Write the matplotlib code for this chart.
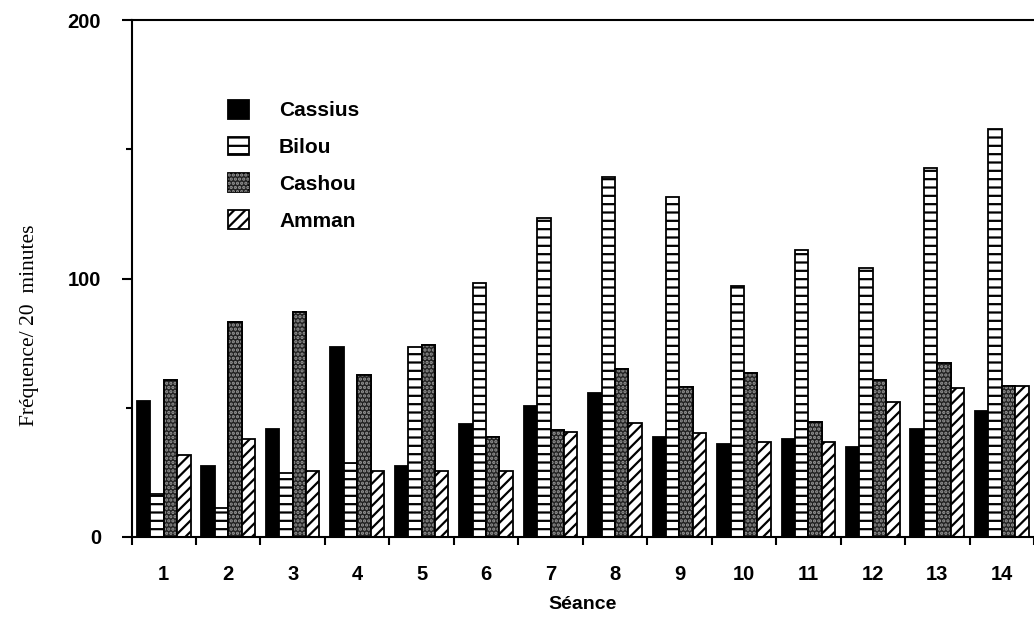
import matplotlib.pyplot as plt
from matplotlib.patches import Patch
import numpy as np

# data
seances = list(range(1, 15))
cassius = [52.7, 27.6, 41.8, 73.4, 27.6, 43.6, 50.7, 55.6, 38.8, 36.0, 37.8, 34.7, 41.7, 48.7]
bilou = [16.5, 11.1, 24.9, 28.5, 73.4, 98.1, 123.4, 139.3, 131.7, 97.1, 111.0, 103.9, 142.6, 157.7]
cashou = [60.7, 83.3, 87.2, 62.7, 74.3, 38.8, 41.4, 64.9, 57.9, 63.6, 44.6, 60.7, 67.4, 58.4]
amman = [31.7, 37.8, 25.7, 25.7, 25.7, 25.7, 40.7, 44.0, 40.1, 36.9, 36.9, 52.3, 57.5, 58.4]

plt.rcParams['hatch.linewidth'] = 1.6
plt.rcParams['font.family'] = ['Liberation Sans', 'DejaVu Sans']

fig = plt.figure(figsize=(10.34, 6.18), dpi=100)
ax = fig.add_axes([131.5 / 1034, 81 / 618, 902.5 / 1034, 517 / 618])

x = np.array(seances)
w = 0.208
lw = 1.3

ax.bar(x - 1.5 * w, cassius, w, color='black', edgecolor='black', lw=lw)
ax.bar(x - 0.5 * w, bilou, w, color='white', edgecolor='black', hatch='--', lw=lw)
ax.bar(x + 0.5 * w, cashou, w, color='#222222', edgecolor='black', lw=lw)
ax.bar(x + 0.5 * w, cashou, w, color='none', edgecolor='#999999', hatch='....', lw=0)
ax.bar(x + 0.5 * w, cashou, w, fill=False, edgecolor='black', lw=lw)
ax.bar(x + 1.5 * w, amman, w, color='white', edgecolor='black', hatch='///', lw=lw)

ax.set_xlim(0.5, 0.5 + 902.5 / 65)
ax.set_ylim(0, 200)

ax.spines['right'].set_visible(False)
for s in ['left', 'bottom', 'top']:
    ax.spines[s].set_linewidth(1.5)

ax.set_yticks([0, 100, 200])
ax.set_yticks([50, 150], minor=True)
ax.set_xticks(seances)
ax.set_xticks(np.arange(0.5, 15, 1.0), minor=True)
ax.tick_params(axis='x', which='major', length=0, pad=20, labelsize=14.5)
ax.tick_params(axis='x', which='minor', length=6, width=1.5, direction='out')
ax.tick_params(axis='y', which='major', length=7, width=1.5, pad=15, labelsize=14.5)
ax.tick_params(axis='y', which='minor', length=4, width=1.5)
for lab in ax.get_xticklabels() + ax.get_yticklabels():
    lab.set_fontweight('bold')

ax.set_xlabel('Séance', fontsize=14, fontweight='bold', labelpad=9)
fig.text(30 / 1034, 1 - 325 / 618, 'Fréquence/ 20  minutes', rotation=90,
         ha='center', va='center', fontsize=15.5, family='Liberation Serif')

handles = [
    Patch(facecolor='black', edgecolor='black', lw=lw),
    Patch(facecolor='white', edgecolor='black', hatch='--', lw=lw),
    (Patch(facecolor='#222222', edgecolor='black', lw=lw),
     Patch(facecolor='none', edgecolor='#999999', hatch='....', lw=0)),
    Patch(facecolor='white', edgecolor='black', hatch='///', lw=lw),
]
leg = ax.legend(handles, ['Cassius', 'Bilou', 'Cashou', 'Amman'],
                loc='upper left', bbox_to_anchor=(228 / 1034, 1 - 100 / 618),
                bbox_transform=fig.transFigure, frameon=False, borderpad=0,
                borderaxespad=0, handlelength=1.0, handleheight=1.0,
                handletextpad=1.45, labelspacing=0.78,
                prop={'size': 15, 'weight': 'bold'})

plt.savefig('out.png', dpi=100)
